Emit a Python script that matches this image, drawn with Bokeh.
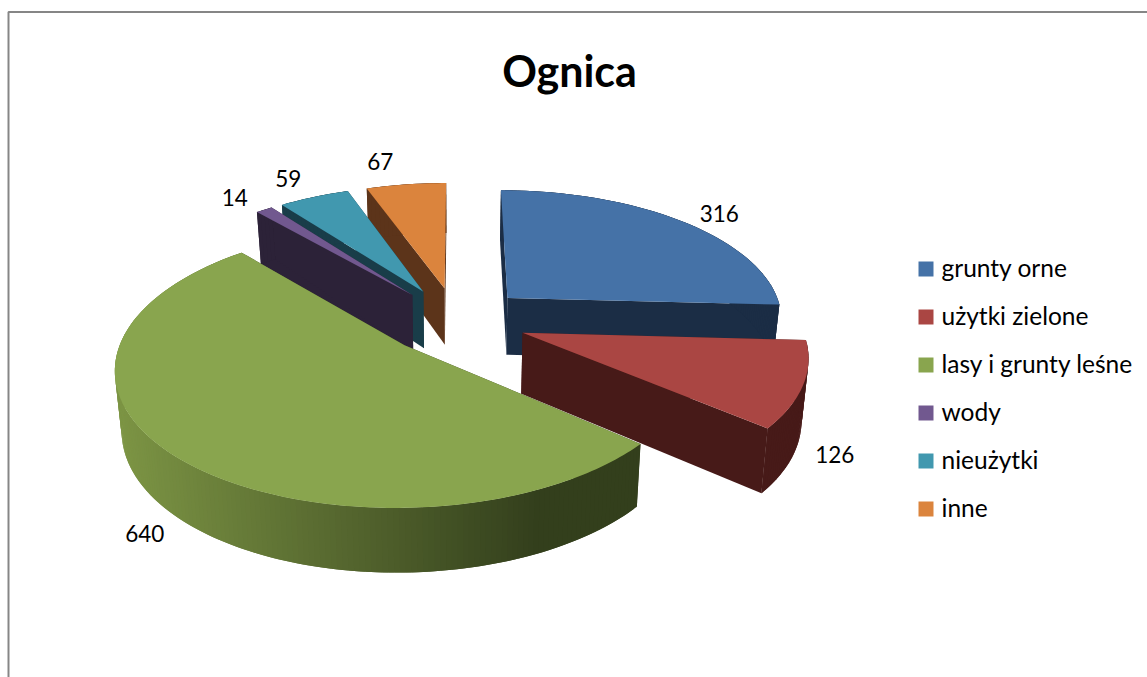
import math
from bokeh.plotting import figure
from bokeh.models import ColumnDataSource, Range1d
from bokeh.core.properties import value
from bokeh.embed import file_html
from bokeh.resources import INLINE

# ---- data ----
title = "Ognica"
categories = ["grunty orne", "użytki zielone", "lasy i grunty leśne", "wody", "nieużytki", "inne"]
values = [316, 126, 640, 14, 59, 67]

# ---- style ----
top_colors = ["#4572A7", "#AA4643", "#89A54E", "#71588F", "#4198AF", "#DB843D"]
side_colors = ["#1B2D45", "#471A18", "#38421E", "#2C2238", "#193D49", "#5C341A"]
draw_order = [0, 5, 4, 3, 1, 2]
label_r = [1.175, 1.24, 1.342, 1.181, 1.233, 1.275]
label_turn = [3.0, 18.5, -12.0, -1.4, -0.8, -3.4]
explode = [0.26, 0.253, 0.26, 0.26, 0.26, 0.26]
extra_depth = [0.0, 2.5, 0.0, 0.0, 0.0, 0.0]

# ---- projection of the tilted pie ----
CX, CY, RX, RY, K = 456.0, 320.0, 277.0, 130.0, 0.15
BOTTOM_SCALE_X = 0.98
BOTTOM_SCALE_Y = 0.985


def project(u, v, bottom=False, extra=0.0):
    w = 1 + K * v
    x = CX + RX * u / w
    y = CY - RY * v / w
    if bottom:
        x = CX + (x - CX) * BOTTOM_SCALE_X
        y = CY + (y - CY) * BOTTOM_SCALE_Y + (58 - 8 * v) + extra
    return x, y


def polar(theta, r, mid, e):
    t, m = math.radians(theta), math.radians(mid)
    return (r * math.sin(t) + e * math.sin(m),
            r * math.cos(t) + e * math.cos(m))


def mix(c0, c1, f):
    f = max(0.0, min(1.0, f))
    return "#%02x%02x%02x" % tuple(round(a + (b - a) * f) for a, b in zip(c0, c1))


total = sum(values)
starts, a = [], 0.0
for val in values:
    starts.append(a)
    a += val * 360.0 / total

xs, ys, fills = [], [], []


def poly(points, color):
    xs.append([pt[0] for pt in points])
    ys.append([pt[1] for pt in points])
    fills.append(color)


for i in draw_order:
    a0 = starts[i]
    a1 = a0 + values[i] * 360.0 / total
    mid = (a0 + a1) / 2
    e = explode[i]
    d = extra_depth[i]
    n = max(4, int((a1 - a0) / 1.0))
    angles = [a0 + (a1 - a0) * j / n for j in range(n + 1)]
    apex = polar(0, 0, mid, e)
    # radial walls
    for ang in (a0, a1):
        p = polar(ang, 1, mid, e)
        poly([project(*apex), project(*p), project(*p, True, d), project(*apex, True, d)], side_colors[i])
    # outer rim, pieces overlapping the next one so no seams show
    for j in range(n):
        p = polar(angles[j], 1, mid, e)
        q = polar(angles[min(j + 2, n)], 1, mid, e)
        color = side_colors[i]
        if i == 2:  # lit gradient on the big slice
            fx = (project(*p)[0] - 120.0) / 420.0
            color = mix((124, 148, 68), (51, 63, 28), fx)
        poly([project(*p), project(*q), project(*q, True, d), project(*p, True, d)], color)
    # top face
    poly([project(*apex)] + [project(*polar(ang, 1, mid, e)) for ang in angles], top_colors[i])

p = figure(width=1147, height=677, output_backend="svg", toolbar_location=None,
           x_range=Range1d(0, 1147), y_range=Range1d(677, 0), min_border=0, outline_line_color=None)
p.axis.visible = False
p.grid.visible = False

# chart frame
p.line([8, 8, 1147], [677, 11.5, 11.5], line_color="#868686", line_width=2)

src = ColumnDataSource(dict(xs=xs, ys=ys, fill=fills))
p.patches("xs", "ys", source=src, fill_color="fill", line_color=None)

# data labels
lx, ly = [], []
for i in range(len(values)):
    a0 = starts[i]
    mid = a0 + values[i] * 180.0 / total
    x, y = project(*polar(mid + label_turn[i], label_r[i], mid, explode[i]))
    lx.append(x)
    ly.append(y)
p.text(lx, ly, text=[str(v) for v in values], text_font=value("Lato"), text_font_size="22.5px",
       text_color="#000000", text_align="center", text_baseline="middle")

# title
p.text([569], [69.5], text=[title], text_font=value("Lato"), text_font_size="43px",
       text_font_style="bold", text_color="#000000", text_align="center", text_baseline="middle")

# legend
LEG_X, LEG_Y, LEG_STEP, SW = 918.0, 268.5, 48.0, 15.0
for i, name in enumerate(categories):
    y = LEG_Y + i * LEG_STEP
    p.quad(left=[LEG_X], right=[LEG_X + SW], top=[y - SW / 2], bottom=[y + SW / 2],
           fill_color=top_colors[i], line_color=None)
    p.text([LEG_X + 23], [y - 1.5], text=[name], text_font=value("Lato"), text_font_size="24.5px",
           text_color="#000000", text_align="left", text_baseline="middle")

open("out.html", "w").write(file_html(p, INLINE))
